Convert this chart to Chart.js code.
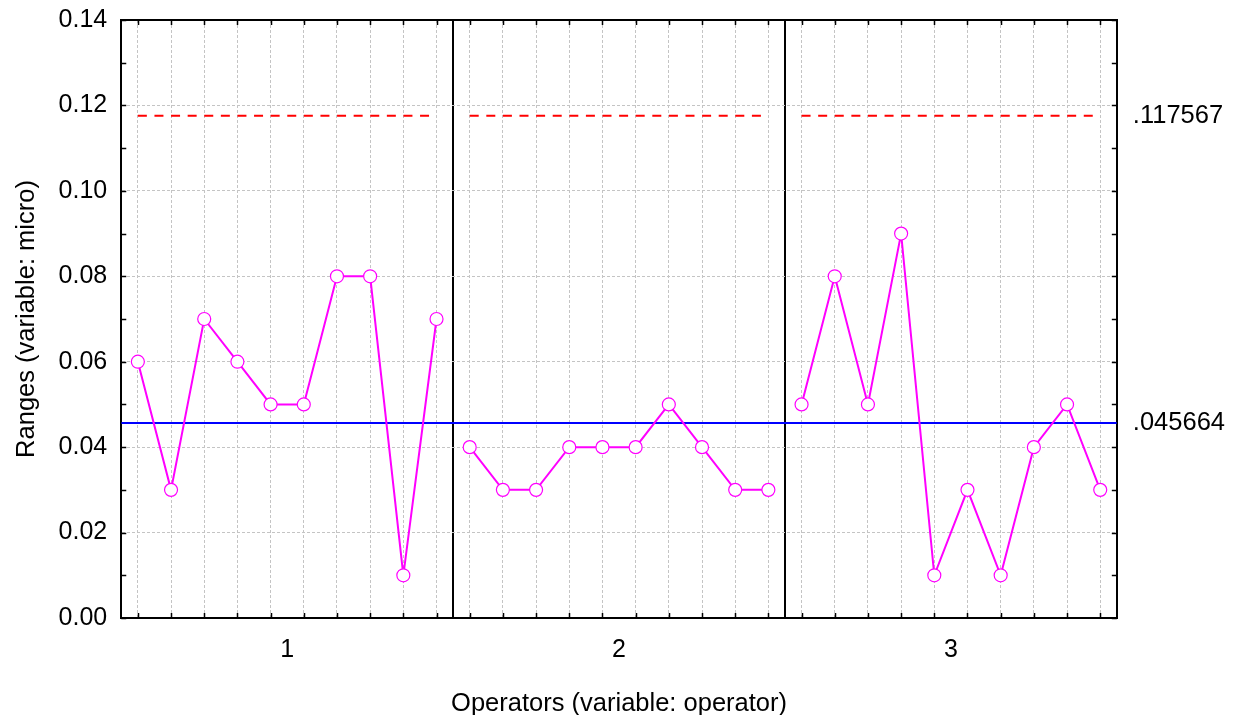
<!DOCTYPE html>
<html>
<head>
<meta charset="utf-8">
<script src="https://cdn.jsdelivr.net/npm/chart.js@4/dist/chart.umd.min.js"></script>
<style>
  body { margin: 0; background: #fff; }
  canvas { display: block; }
</style>
</head>
<body>
<canvas id="rangeChart" width="1237" height="715"></canvas>
<script>
// Range chart data
const operators = ['1', '2', '3'];
const operator1Ranges = [0.06, 0.03, 0.07, 0.06, 0.05, 0.05, 0.08, 0.08, 0.01, 0.07];
const operator2Ranges = [0.04, 0.03, 0.03, 0.04, 0.04, 0.04, 0.05, 0.04, 0.03, 0.03];
const operator3Ranges = [0.05, 0.08, 0.05, 0.09, 0.01, 0.03, 0.01, 0.04, 0.05, 0.03];
const upperLimit = 0.117567;
const meanRange = 0.045664;
const yTickLabels = ['0.00', '0.02', '0.04', '0.06', '0.08', '0.10', '0.12', '0.14'];

const allRanges = [operator1Ranges, operator2Ranges, operator3Ranges];
const partsPerOperator = operator1Ranges.length;
const totalParts = partsPerOperator * operators.length;

// build point / line data from the arrays above
const rangePoints = [];
const limitPoints = [];
allRanges.forEach((ranges, k) => {
    const start = k * partsPerOperator;
    ranges.forEach((v, j) => rangePoints.push({ x: start + j + 0.5, y: v }));
    limitPoints.push({ x: start + 0.5, y: upperLimit });
    limitPoints.push({ x: start + partsPerOperator - 0.5, y: upperLimit });
    if (k < allRanges.length - 1) {
        rangePoints.push({ x: start + partsPerOperator, y: null });
        limitPoints.push({ x: start + partsPerOperator, y: null });
    }
});
const meanPoints = [{ x: 0, y: meanRange }, { x: totalParts, y: meanRange }];

const partPositions = [];
for (let i = 0; i < totalParts; i++) partPositions.push(i + 0.5);
const operatorCenters = operators.map((o, k) => k * partsPerOperator + partsPerOperator / 2);
const operatorBounds = operators.slice(1).map((o, k) => (k + 1) * partsPerOperator);
const yMinor = [];
for (let i = 0; i <= 14; i++) yMinor.push(i / 100);

const FONT = "'Liberation Sans', Arial, sans-serif";
const GRID_GRAY = '#c4c4c4';
const CLEAR = 'rgba(0,0,0,0)';

const isBound = v => operatorBounds.some(b => Math.abs(b - v) < 1e-9);
const isCenter = v => operatorCenters.some(c => Math.abs(c - v) < 1e-9);
const isEvenHundredth = v => Math.round(v * 100) % 2 === 0;
const isLimitTick = v => Math.abs(v - upperLimit) < 1e-9 || Math.abs(v - meanRange) < 1e-9;
// y axes should not push the plot down for their top label
const noTopPadding = (scale) => { scale.paddingTop = 0; };

// top frame line and the small inward tick marks on all four sides
const frameTicks = {
    id: 'frameTicks',
    afterDraw(chart) {
        const { ctx, chartArea: a, scales } = chart;
        const len = 5;
        ctx.save();
        ctx.strokeStyle = '#000';
        ctx.lineWidth = 2;
        ctx.beginPath();
        ctx.moveTo(a.left - 1, a.top);
        ctx.lineTo(a.right + 1, a.top);
        ctx.stroke();
        ctx.lineWidth = 1.5;
        ctx.beginPath();
        partPositions.forEach(p => {
            const x = Math.round(scales.x.getPixelForValue(p)) + 0.5;
            ctx.moveTo(x, a.bottom);
            ctx.lineTo(x, a.bottom - len);
            ctx.moveTo(x, a.top);
            ctx.lineTo(x, a.top + len);
        });
        yMinor.forEach(v => {
            const y = Math.round(scales.y.getPixelForValue(v)) + 0.5;
            ctx.moveTo(a.left, y);
            ctx.lineTo(a.left + len, y);
            ctx.moveTo(a.right, y);
            ctx.lineTo(a.right - len, y);
        });
        ctx.stroke();
        ctx.restore();
    }
};

const ctx = document.getElementById('rangeChart').getContext('2d');
const rangeChart = new Chart(ctx, {
    type: 'line',
    data: {
        datasets: [{
            label: 'Ranges',
            data: rangePoints,
            borderColor: '#ff00ff',
            borderWidth: 2,
            pointRadius: 6.5,
            pointBackgroundColor: '#ffffff',
            pointBorderColor: '#ff00ff',
            pointBorderWidth: 1.2,
            spanGaps: false,
            tension: 0
        }, {
            label: 'UCL',
            data: limitPoints,
            borderColor: '#ff0000',
            borderWidth: 2,
            borderDash: [9, 7.6],
            pointRadius: 0,
            spanGaps: false
        }, {
            label: 'Mean',
            data: meanPoints,
            borderColor: '#0000ff',
            borderWidth: 2,
            pointRadius: 0
        }]
    },
    options: {
        responsive: false,
        animation: false,
        layout: { padding: { top: 20, right: -4, bottom: 0, left: 0 } },
        plugins: {
            legend: { display: false },
            tooltip: { enabled: false }
        },
        scales: {
            x: {
                type: 'linear',
                position: 'bottom',
                min: 0,
                max: totalParts,
                afterBuildTicks: (scale) => {
                    const vals = partPositions.concat(operatorBounds, operatorCenters).sort((a, b) => a - b);
                    scale.ticks = vals.map(v => ({ value: v }));
                },
                ticks: {
                    autoSkip: false,
                    maxRotation: 0,
                    padding: 17,
                    color: '#000',
                    font: { family: FONT, size: 25 },
                    callback: (value) => {
                        const k = operatorCenters.findIndex(c => Math.abs(c - value) < 1e-9);
                        return k >= 0 ? operators[k] : '';
                    }
                },
                grid: {
                    color: (c) => {
                        if (!c.tick) return GRID_GRAY;
                        if (isBound(c.tick.value)) return '#000';
                        if (isCenter(c.tick.value)) return CLEAR;
                        return GRID_GRAY;
                    },
                    lineWidth: (c) => (c.tick && isBound(c.tick.value)) ? 2 : 1,
                    drawTicks: false
                },
                border: {
                    display: true,
                    color: '#000',
                    width: 2,
                    dash: (c) => (c.tick && isBound(c.tick.value)) ? [] : [3, 2]
                },
                title: {
                    display: true,
                    text: 'Operators (variable: operator)',
                    color: '#000',
                    font: { family: FONT, size: 25.5 },
                    padding: { top: 6.7, bottom: -4.3 }
                }
            },
            y: {
                min: 0,
                max: 0.14,
                afterBuildTicks: (scale) => {
                    scale.ticks = yMinor.map(v => ({ value: v }));
                },
                afterFit: noTopPadding,
                ticks: {
                    autoSkip: false,
                    padding: 14,
                    color: '#000',
                    font: { family: FONT, size: 25 },
                    callback: (value) => isEvenHundredth(value) ? yTickLabels[Math.round(value * 50)] : ''
                },
                grid: {
                    color: (c) => (!c.tick || isEvenHundredth(c.tick.value)) ? GRID_GRAY : CLEAR,
                    lineWidth: 1,
                    drawTicks: false
                },
                border: { display: true, color: '#000', width: 2, dash: [3, 2] },
                title: {
                    display: true,
                    text: 'Ranges (variable: micro)',
                    color: '#000',
                    font: { family: FONT, size: 25.5 },
                    padding: { top: 12, bottom: 2 }
                }
            },
            yRight: {
                position: 'right',
                min: 0,
                max: 0.14,
                afterBuildTicks: (scale) => {
                    scale.ticks = [meanRange, upperLimit].map(v => ({ value: v }));
                },
                afterFit: noTopPadding,
                ticks: {
                    autoSkip: false,
                    padding: 16,
                    color: '#000',
                    font: { family: FONT, size: 25.5 },
                    callback: (value) => isLimitTick(value) ? value.toFixed(6).replace(/^0/, '') : ''
                },
                grid: { drawOnChartArea: false, drawTicks: false },
                border: { display: true, color: '#000', width: 2 }
            }
        }
    },
    plugins: [frameTicks]
});
</script>
</body>
</html>
